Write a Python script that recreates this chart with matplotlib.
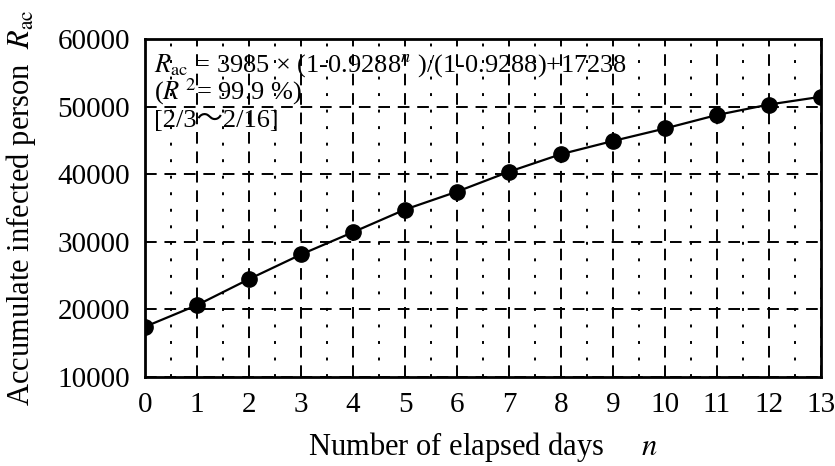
import matplotlib.pyplot as plt
from matplotlib.ticker import MultipleLocator

plt.rcParams['font.family'] = ['Liberation Serif', 'DejaVu Serif']
plt.rcParams['mathtext.fontset'] = 'stix'

# elapsed days and accumulated infected persons
days = list(range(14))
infected = [17400, 20600, 24450, 28100, 31400, 34750, 37400,
            40350, 42950, 44900, 46750, 48750, 50300, 51450]

x_ticks = list(range(14))
y_ticks = [10000, 20000, 30000, 40000, 50000, 60000]

fig = plt.figure(figsize=(8.35, 4.66), dpi=100)
ax = fig.add_axes([0.1737, 0.1916, 0.8095, 0.7247])

ax.plot(days, infected, c='k', lw=1.6, marker='o', ms=11, zorder=5)

ax.set_xlim(0, 13)
ax.set_ylim(10000, 60000)
ax.set_xticks(x_ticks)
ax.set_yticks(y_ticks)
ax.xaxis.set_minor_locator(MultipleLocator(0.5))

# grid: dashed at integers / 10000, dotted at half days
ax.grid(axis='both', which='major', c='k', lw=1.4, ls=(0, (6, 4)))
ax.grid(axis='x', which='minor', c='k', lw=1.4, ls=(0, (1.5, 7)))

for s in ax.spines.values():
    s.set_linewidth(2)
ax.tick_params(which='both', direction='in', length=0, labelsize=21)
ax.tick_params(axis='x', pad=11)
ax.tick_params(axis='y', pad=11)

ax.set_xlabel('Number of elapsed days     $\\mathit{n}$', fontsize=22, labelpad=9)
ax.set_ylabel('Accumulate infected person  $\\mathit{R}_{\\mathrm{ac}}$', fontsize=22, labelpad=14)

fs = 19
ax.text(0.17, 55200,
        '$\\mathit{R}_{\\mathrm{ac}}$ = 3985 × (1-0.9288$^{\\mathit{n}}$ )/(1-0.9288)+17238',
        fontsize=fs, va='baseline', ha='left')
ax.text(0.17, 51100, '($\\mathit{R}$ $^{2}$= 99.9 %)', fontsize=fs, va='baseline', ha='left')
ax.text(0.17, 46970, '[2/3～2/16]', fontsize=fs, va='baseline', ha='left',
        family=['Liberation Serif', 'Noto Sans CJK JP'])

fig.savefig('out.png', dpi=100)
